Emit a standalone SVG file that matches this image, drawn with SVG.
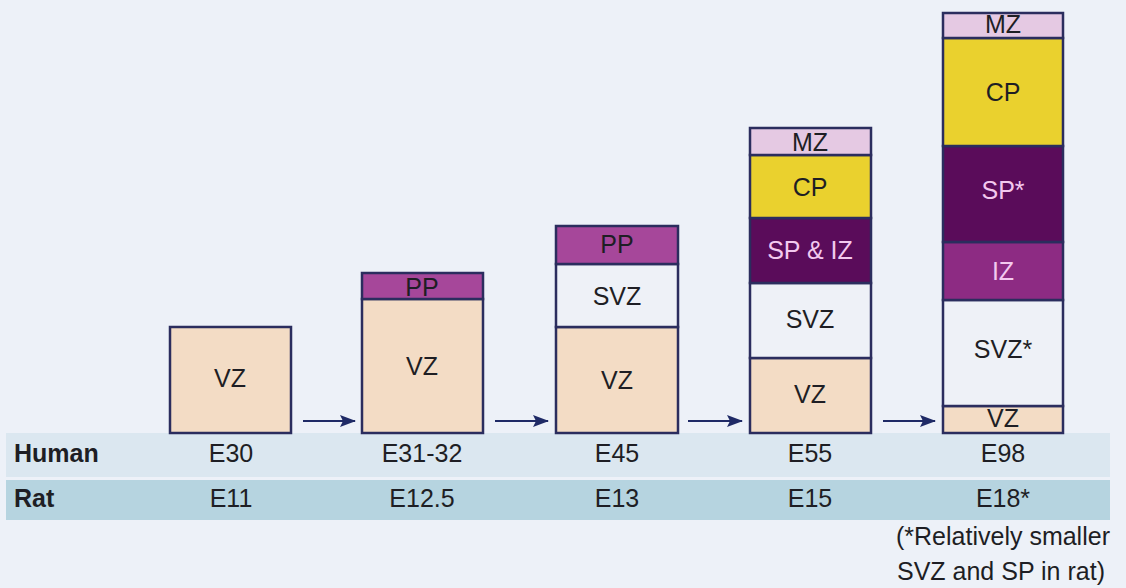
<svg xmlns="http://www.w3.org/2000/svg" width="1126" height="588" viewBox="0 0 1126 588">
<style>
.bg{fill:#edf1f8}
.ly{stroke:#2b2d5e;stroke-width:2.5}
.vz{fill:#f3dcc5}
.pp{fill:#a6479a}
.svz{fill:#eef1f7}
.mz{fill:#e5c9e3}
.cp{fill:#ead12e}
.sp{fill:#5a0c5a}
.iz{fill:#8d2b83}
.t{font-family:"Liberation Sans",Arial,sans-serif;font-size:25px;text-anchor:middle;fill:#1e1e24}
.lt{fill:#f3c9ef}
.b{font-weight:bold;text-anchor:start}
.arr{stroke:#1f2a66;stroke-width:2;fill:none}
</style>
<defs>
<marker id="ah" viewBox="0 0 16 12" refX="15" refY="6" markerWidth="16" markerHeight="12" markerUnits="userSpaceOnUse" orient="auto">
<path d="M0,0 L16,6 L0,12 L3,6 Z" fill="#1f2a66"/>
</marker>
</defs>
<rect class="bg" x="0" y="0" width="1126" height="588"/>
<g id="rows">
<rect x="6" y="433" width="1104" height="44" fill="#dbe7f0"/>
<rect x="6" y="480" width="1104" height="40" fill="#b6d4e0"/>
<text class="t b" x="14" y="462">Human</text>
<text class="t b" x="14" y="507">Rat</text>
</g>
<g id="col1">
<rect class="ly vz" x="170" y="327" width="121" height="106"/>
<text class="t" x="230" y="387">VZ</text>
<text class="t" x="231" y="462">E30</text>
<text class="t" x="231" y="507">E11</text>
</g>
<g id="col2">
<rect class="ly vz" x="362" y="299" width="121" height="134"/>
<rect class="ly pp" x="362" y="273" width="121" height="26"/>
<text class="t" x="422" y="296">PP</text>
<text class="t" x="422" y="375">VZ</text>
<text class="t" x="422" y="462">E31-32</text>
<text class="t" x="422" y="507">E12.5</text>
</g>
<g id="col3">
<rect class="ly vz" x="556" y="327" width="122" height="106"/>
<rect class="ly svz" x="556" y="264" width="122" height="63"/>
<rect class="ly pp" x="556" y="226" width="122" height="38"/>
<text class="t" x="617" y="253">PP</text>
<text class="t" x="617" y="305">SVZ</text>
<text class="t" x="617" y="389">VZ</text>
<text class="t" x="617" y="462">E45</text>
<text class="t" x="617" y="507">E13</text>
</g>
<g id="col4">
<rect class="ly vz" x="750" y="358" width="121" height="75"/>
<rect class="ly svz" x="750" y="283" width="121" height="75"/>
<rect class="ly sp" x="750" y="218" width="121" height="65"/>
<rect class="ly cp" x="750" y="155" width="121" height="63"/>
<rect class="ly mz" x="750" y="128" width="121" height="27"/>
<text class="t" x="810" y="151">MZ</text>
<text class="t" x="810" y="196">CP</text>
<text class="t lt" x="810" y="259">SP &amp; IZ</text>
<text class="t" x="810" y="328">SVZ</text>
<text class="t" x="810" y="403">VZ</text>
<text class="t" x="810" y="462">E55</text>
<text class="t" x="810" y="507">E15</text>
</g>
<g id="col5">
<rect class="ly vz" x="943" y="406" width="120" height="27"/>
<rect class="ly svz" x="943" y="300" width="120" height="106"/>
<rect class="ly iz" x="943" y="242" width="120" height="58"/>
<rect class="ly sp" x="943" y="146" width="120" height="96"/>
<rect class="ly cp" x="943" y="38" width="120" height="108"/>
<rect class="ly mz" x="943" y="13" width="120" height="25"/>
<text class="t" x="1003" y="33">MZ</text>
<text class="t" x="1003" y="101">CP</text>
<text class="t lt" x="1003" y="199">SP*</text>
<text class="t lt" x="1003" y="280">IZ</text>
<text class="t" x="1003" y="358">SVZ*</text>
<text class="t" x="1003" y="427">VZ</text>
<text class="t" x="1003" y="462">E98</text>
<text class="t" x="1003" y="507">E18*</text>
</g>
<g id="connectors">
<line class="arr" x1="303" y1="421" x2="355" y2="421" marker-end="url(#ah)"/>
<line class="arr" x1="495" y1="421" x2="548" y2="421" marker-end="url(#ah)"/>
<line class="arr" x1="688" y1="421" x2="742" y2="421" marker-end="url(#ah)"/>
<line class="arr" x1="883" y1="421" x2="935" y2="421" marker-end="url(#ah)"/>
</g>
<g id="note">
<text class="t" x="1003" y="545">(*Relatively smaller</text>
<text class="t" x="1001" y="580">SVZ and SP in rat)</text>
</g>
</svg>
